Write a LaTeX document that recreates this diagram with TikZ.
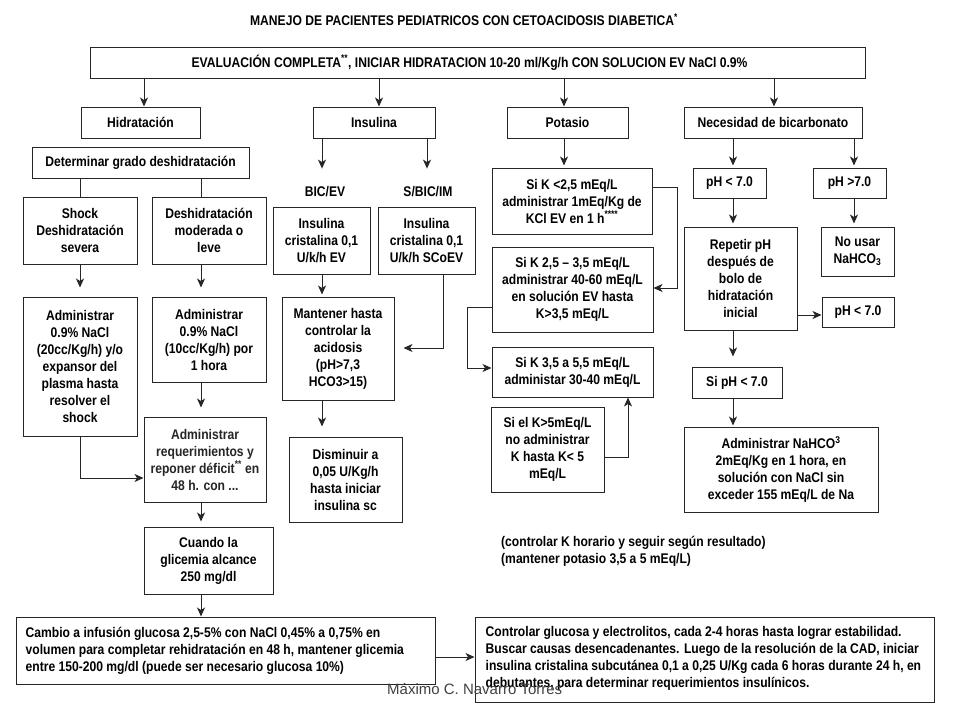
\documentclass[tikz,border=0pt]{standalone}
\usepackage{fontspec}
\setmainfont{Liberation Sans}
\newfontfamily\cond{Liberation Sans}[FakeStretch=0.865]
\usetikzlibrary{arrows.meta,calc}
\begin{document}
\begin{tikzpicture}[x=1pt,y=-1pt,
  box/.style={draw=black!85, line width=1pt, align=center, inner sep=1pt,
    font=\cond\bfseries\fontsize{14}{17}\selectfont, text=black},
  lbl/.style={font=\cond\bfseries\fontsize{14}{17}\selectfont, text=black, inner sep=1pt},
  arr/.style={-{Stealth[length=9pt,width=8pt,inset=2.5pt]}, line width=1pt, draw=black!85},
  ln/.style={line width=1pt, draw=black!85}]
\fill[white] (0,0) rectangle (960,720);
\useasboundingbox (0,0) rectangle (960,720);

% helper coordinates
\foreach \n/\v in {80/80,144/144,201/201,322/322,379/379,427/427,443/443,467/467,564/564,628/628,677/677,733/733,774/774,854/854}
  {\coordinate (x\n) at (\v,0);}
\foreach \n/\v in {187/187,288/288,307/307,315/315,348/348,368/368,457/457,478/478,657/657}
  {\coordinate (y\n) at (0,\v);}

% title
\node[lbl, align=center] (title) at (464,20) {MANEJO DE PACIENTES PEDIATRICOS CON CETOACIDOSIS DIABETICA\textsuperscript{*}};

% top
\node[box, minimum width=775, minimum height=31] (top) at (477.5,62.5)
  {EVALUACIÓN COMPLETA\textsuperscript{**}, INICIAR HIDRATACION 10-20 ml/Kg/h CON SOLUCION EV NaCl 0.9\%\hspace*{16pt}};

% row 2
\node[box, minimum width=119, minimum height=31] (hid) at (140.5,122.5) {Hidratación};
\node[box, minimum width=122, minimum height=31] (ins) at (374,122.5) {Insulina};
\node[box, minimum width=121, minimum height=31] (pot) at (567.5,122.5) {Potasio};
\node[box, minimum width=178, minimum height=31] (nec) at (773,122.5) {Necesidad de bicarbonato};

% hydration column
\node[box, minimum width=217, minimum height=31] (det) at (140.5,162.5) {Determinar grado deshidratación};
\node[box, minimum width=114, minimum height=67] (shock) at (80,230.5) {Shock\\Deshidratación\\severa};
\node[box, minimum width=114, minimum height=67] (mod) at (209,230.5) {Deshidratación\\moderada o\\leve};
\node[box, minimum width=114, minimum height=139] (admS) at (80,366.5)
  {Administrar\\0.9\% NaCl\\(20cc/Kg/h) y/o\\expansor del\\plasma hasta\\resolver el\\shock};
\node[box, minimum width=114, minimum height=85] (admM) at (209,339.5)
  {Administrar\\0.9\% NaCl\\(10cc/Kg/h) por\\1 hora};
\node[box, minimum width=122, minimum height=85, text=black!85] (req) at (205,459.5)
  {Administrar\\requerimientos y\\reponer déficit\textsuperscript{**} en\\48 h. con ...};
\node[box, minimum width=129, minimum height=67] (cuando) at (208.5,560.5)
  {Cuando la\\glicemia alcance\\250 mg/dl};
\node[box, minimum width=419, minimum height=67] (cambio) at (225.5,650.5) {};
\node[lbl, align=left, anchor=west] (cambioT) at ([xshift=9pt]cambio.west)
  {Cambio a infusión glucosa 2,5-5\% con NaCl 0,45\% a 0,75\% en\\
   volumen para completar rehidratación en 48 h, mantener glicemia\\
   entre 150-200 mg/dl (puede ser necesario glucosa 10\%)};
\node[box, minimum width=459, minimum height=85] (ctrl) at (704.5,659.5) {};
\node[lbl, align=left, anchor=west] (ctrlT) at ([xshift=10pt,yshift=1pt]ctrl.west)
  {Controlar glucosa y electrolitos, cada 2-4 horas hasta lograr estabilidad.\\
   Buscar causas desencadenantes. Luego de la resolución de la CAD, iniciar\\
   insulina cristalina subcutánea 0,1 a 0,25 U/Kg cada 6 horas durante 24 h, en\\
   debutantes, para determinar requerimientos insulínicos.};

% insulin column
\node[lbl] (bicev) at (325,192) {BIC/EV};
\node[lbl] (bicim) at (428,192) {S/BIC/IM};
\node[box, minimum width=97, minimum height=67] (insEV) at (321.5,240.5) {Insulina\\cristalina 0,1\\U/k/h EV};
\node[box, minimum width=97, minimum height=67] (insSC) at (426.5,240.5) {Insulina\\cristalina 0,1\\U/k/h SCoEV};
\node[box, minimum width=112, minimum height=103] (mant) at (338,348.5)
  {Mantener hasta\\controlar la\\acidosis\\(pH>7,3\\HCO3>15)};
\node[box, minimum width=113, minimum height=85] (dism) at (345.5,479.5)
  {Disminuir a\\0,05 U/Kg/h\\hasta iniciar\\insulina sc};

% potassium column
\node[box, minimum width=160, minimum height=66] (k1) at (572,201)
  {Si K <2,5 mEq/L\\administrar 1mEq/Kg de\\KCl EV en 1 h\textsuperscript{****}};
\node[box, minimum width=161, minimum height=85] (k2) at (572.5,289.5)
  {Si K 2,5 – 3,5 mEq/L\\administrar 40-60 mEq/L\\en solución EV hasta\\K>3,5 mEq/L};
\node[box, minimum width=161, minimum height=50] (k3) at (572.5,372)
  {Si K 3,5 a 5,5 mEq/L\\administar 30-40 mEq/L};
\node[box, minimum width=113, minimum height=85] (k4) at (547.5,449.5)
  {Si el K>5mEq/L\\no administrar\\K hasta K< 5\\mEq/L};
\node[lbl, align=left, anchor=west] (notes) at (500,551)
  {(controlar K horario y seguir según resultado)\\(mantener potasio 3,5 a 5 mEq/L)};

% bicarbonate column
\node[box, minimum width=73, minimum height=30] (ph1) at (729.5,183) {pH < 7.0};
\node[box, minimum width=73, minimum height=30] (ph2) at (849.5,183) {pH >7.0};
\node[box, minimum width=113, minimum height=103] (rep) at (740.5,278.5)
  {Repetir pH\\después de\\bolo de\\hidratación\\inicial};
\node[box, minimum width=73, minimum height=49] (nouse) at (857.5,251.5) {No usar\\NaHCO\textsubscript{3}};
\node[box, minimum width=72, minimum height=30] (ph3) at (858,312) {pH < 7.0};
\node[box, minimum width=90, minimum height=31] (sipH) at (737,382.5) {Si pH < 7.0};
\node[box, minimum width=194, minimum height=85] (nahco) at (781,469.5)
  {Administrar NaHCO\textsuperscript{3}\\2mEq/Kg en 1 hora, en\\solución con NaCl sin\\exceder 155 mEq/L de Na};

% watermark
\node[font=\fontsize{15}{17}\selectfont, text=black!75, anchor=west, inner sep=0] (wm) at (387,689) {Máximo C. Navarro Torres};

% connectors
\draw[arr] (top.south -| x144) -- (hid.north -| x144);
\draw[arr] (top.south -| x379) -- (ins.north -| x379);
\draw[arr] (top.south -| x564) -- (pot.north -| x564);
\draw[arr] (top.south -| x774) -- (nec.north -| x774);

\draw[ln] (det.south -| x80) -- (shock.north -| x80);
\draw[ln] (det.south -| x201) -- (mod.north -| x201);
\draw[arr, shorten >=9pt] (shock.south -| x80) -- (admS.north -| x80);
\draw[arr, shorten >=9pt] (mod.south -| x201) -- (admM.north -| x201);
\draw[arr, shorten >=9pt] (admM.south -| x201) -- (req.north -| x201);
\draw[arr] (admS.south -| x80) -- (x80 |- y478) -- (req.west |- y478);
\draw[arr, shorten >=5pt] (req.south -| x201) -- (cuando.north -| x201);
\draw[arr] (cuando.south -| x201) -- (cambio.north -| x201);
\draw[arr] (cambio.east |- y657) -- (ctrl.west |- y657);

\draw[arr, shorten >=17pt] (ins.south -| x322) -- (bicev.north -| x322);
\draw[arr, shorten >=17pt] (ins.south -| x427) -- (bicim.north -| x427);
\draw[arr, shorten >=2pt] (insEV.south -| x322) -- (mant.north -| x322);
\draw[arr, shorten >=9pt] (insSC.south -| x443) -- (x443 |- y348) -- (mant.east |- y348);
\draw[arr, shorten >=10pt] (mant.south -| x322) -- (dism.north -| x322);

\draw[arr, shorten >=2pt] (pot.south -| x564) -- (k1.north -| x564);
\draw[arr] (k1.east |- y187) -- (x677 |- y187) -- (x677 |- y288) -- (k2.east |- y288);
\draw[arr] (k2.west |- y307) -- (x467 |- y307) -- (x467 |- y368) -- (k3.west |- y368);
\draw[arr] (k4.east |- y457) -- (x628 |- y457) -- (k3.south -| x628);

\draw[arr, shorten >=2pt] (nec.south -| x733) -- (ph1.north -| x733);
\draw[arr, shorten >=2pt] (nec.south -| x854) -- (ph2.north -| x854);
\draw[arr, shorten >=3pt] (ph1.south -| x733) -- (rep.north -| x733);
\draw[arr, shorten >=3pt] (ph2.south -| x854) -- (nouse.north -| x854);
\draw[arr] (rep.east |- y315) -- (ph3.west |- y315);
\draw[arr, shorten >=10pt] (rep.south -| x733) -- (sipH.north -| x733);
\draw[arr, shorten >=1pt] (sipH.south -| x733) -- (nahco.north -| x733);
\end{tikzpicture}
\end{document}
